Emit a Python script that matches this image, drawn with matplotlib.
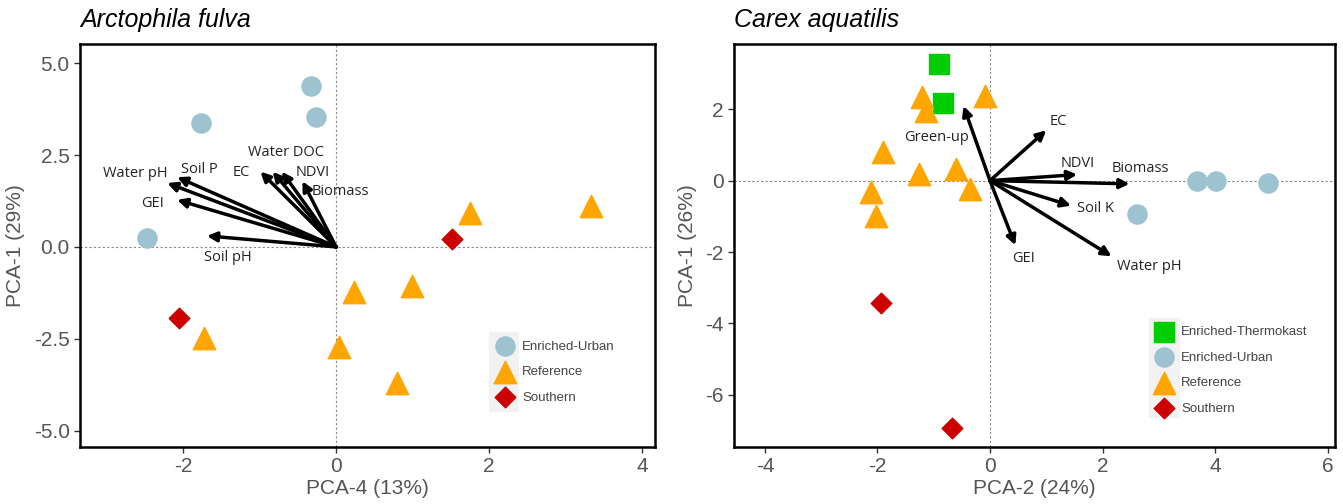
import matplotlib
matplotlib.use("Agg")
import matplotlib.pyplot as plt
from matplotlib.patches import Rectangle

# ---- Arctophila fulva (left) ----
af_urban_x = [-0.33, -0.26, -1.77, -2.48]
af_urban_y = [4.39, 3.53, 3.37, 0.24]
af_ref_x = [1.75, 3.33, 0.23, 0.99, 0.04, -1.73, 0.80]
af_ref_y = [0.92, 1.12, -1.24, -1.06, -2.72, -2.49, -3.70]
af_south_x = [1.51, -2.06]
af_south_y = [0.21, -1.93]

af_arrow_names = ["Water pH", "Soil P", "GEI", "Soil pH", "EC", "Water DOC", "NDVI", "Biomass"]
af_arrow_x = [-2.21, -2.08, -2.08, -1.69, -0.99, -0.83, -0.71, -0.44]
af_arrow_y = [1.74, 1.90, 1.28, 0.30, 2.05, 2.05, 2.05, 1.79]
af_label_x = [-2.63, -1.79, -2.40, -1.41, -1.24, -0.65, -0.30, 0.06]
af_label_y = [2.01, 2.12, 1.19, -0.29, 2.02, 2.57, 2.02, 1.50]

# ---- Carex aquatilis (right) ----
ca_thermo_x = [-0.91, -0.83]
ca_thermo_y = [3.27, 2.16]
ca_urban_x = [3.67, 4.02, 4.94, 2.62]
ca_urban_y = [0.0, 0.0, -0.07, -0.93]
ca_ref_x = [-1.20, -1.14, -0.08, -1.91, -1.27, -0.61, -0.36, -2.11, -2.02]
ca_ref_y = [2.33, 1.95, 2.37, 0.79, 0.19, 0.33, -0.23, -0.33, -0.98]
ca_south_x = [-1.94, -0.68]
ca_south_y = [-3.44, -6.93]

ca_arrow_names = ["Green-up", "EC", "NDVI", "Biomass", "Soil K", "Water pH", "GEI"]
ca_arrow_x = [-0.47, 1.00, 1.55, 2.48, 1.44, 2.16, 0.45]
ca_arrow_y = [2.09, 1.41, 0.17, -0.09, -0.70, -2.12, -1.81]
ca_label_x = [-0.95, 1.21, 1.55, 2.67, 1.87, 2.83, 0.59]
ca_label_y = [1.21, 1.66, 0.49, 0.33, -0.79, -2.40, -2.19]

C_URBAN = "#9DC3D0"
C_REF = "#FFA500"
C_SOUTH = "#CD0000"
C_THERMO = "#00CD00"

plt.rcParams['font.family'] = ['Liberation Sans', 'DejaVu Sans']
plt.rcParams['axes.unicode_minus'] = False

fig = plt.figure(figsize=(13.43, 5.04), dpi=100)
ax1 = fig.add_axes([0.0596, 0.113, 0.428, 0.80])
ax2 = fig.add_axes([0.5465, 0.113, 0.4475, 0.80])


def style_axes(ax, title, xlabel, ylabel):
    ax.axhline(0, color="#888888", lw=0.8, ls=(0, (2, 2)), zorder=0)
    ax.axvline(0, color="#888888", lw=0.8, ls=(0, (2, 2)), zorder=0)
    for s in ax.spines.values():
        s.set_linewidth(1.8)
        s.set_color("black")
    ax.tick_params(labelsize=15, colors="#555555", length=4, width=1, color="#333333")
    ax.set_xlabel(xlabel, fontsize=15, color="#555555", labelpad=2)
    ax.set_ylabel(ylabel, fontsize=15, color="#555555", labelpad=6)
    ax.set_title(title, fontsize=18, style="italic", loc="left", pad=12)


def draw_arrows(ax, xs, ys, names, lx, ly):
    for x, y in zip(xs, ys):
        ax.annotate("", xy=(x, y), xytext=(0, 0),
                    arrowprops=dict(arrowstyle="-|>", color="black", lw=2.5,
                                    mutation_scale=14, shrinkA=0, shrinkB=0),
                    zorder=4)
    for name, x, y in zip(names, lx, ly):
        ax.text(x, y, name, fontsize=10.5, ha="center", va="center",
                family=["Open Sans", "DejaVu Sans"], color="#222222", zorder=5)


def add_legend(ax, handles, x, y):
    leg = ax.legend(handles=handles, loc="center left", bbox_to_anchor=(x, y),
                    frameon=False, fontsize=9.5, labelspacing=1.0,
                    handletextpad=0.6, borderpad=0.3, handlelength=1.4)
    for t in leg.get_texts():
        t.set_color("#444444")
    return leg


# left panel
ax1.scatter(af_urban_x, af_urban_y, s=190, marker="o", color=C_URBAN, label="Enriched-Urban", zorder=3)
ax1.scatter(af_ref_x, af_ref_y, s=260, marker="^", color=C_REF, label="Reference", zorder=3)
ax1.scatter(af_south_x, af_south_y, s=110, marker="D", color=C_SOUTH, label="Southern", zorder=3)
draw_arrows(ax1, af_arrow_x, af_arrow_y, af_arrow_names, af_label_x, af_label_y)
ax1.set_xlim(-3.35, 4.17)
ax1.set_ylim(-5.45, 5.53)
ax1.set_xticks([-2, 0, 2, 4])
ax1.set_yticks([-5.0, -2.5, 0.0, 2.5, 5.0])
ax1.set_yticklabels(["-5.0", "-2.5", "0.0", "2.5", "5.0"])
style_axes(ax1, "Arctophila fulva", "PCA-4 (13%)", "PCA-1 (29%)")
ax1.add_patch(Rectangle((0.712, 0.09), 0.05, 0.195, transform=ax1.transAxes,
                        color="#f2f2f2", zorder=1))
h1, _ = ax1.get_legend_handles_labels()
add_legend(ax1, h1, 0.705, 0.186)

# right panel
ax2.scatter(ca_thermo_x, ca_thermo_y, s=200, marker="s", color=C_THERMO, label="Enriched-Thermokast", zorder=3)
ax2.scatter(ca_urban_x, ca_urban_y, s=190, marker="o", color=C_URBAN, label="Enriched-Urban", zorder=3)
ax2.scatter(ca_ref_x, ca_ref_y, s=260, marker="^", color=C_REF, label="Reference", zorder=3)
ax2.scatter(ca_south_x, ca_south_y, s=110, marker="D", color=C_SOUTH, label="Southern", zorder=3)
draw_arrows(ax2, ca_arrow_x, ca_arrow_y, ca_arrow_names, ca_label_x, ca_label_y)
ax2.set_xlim(-4.55, 6.13)
ax2.set_ylim(-7.46, 3.83)
ax2.set_xticks([-4, -2, 0, 2, 4, 6])
ax2.set_yticks([-6, -4, -2, 0, 2])
style_axes(ax2, "Carex aquatilis", "PCA-2 (24%)", "PCA-1 (26%)")
ax2.add_patch(Rectangle((0.69, 0.075), 0.05, 0.245, transform=ax2.transAxes,
                        color="#f2f2f2", zorder=1))
h2, _ = ax2.get_legend_handles_labels()
add_legend(ax2, h2, 0.683, 0.19)

fig.savefig("out.png", dpi=100)
